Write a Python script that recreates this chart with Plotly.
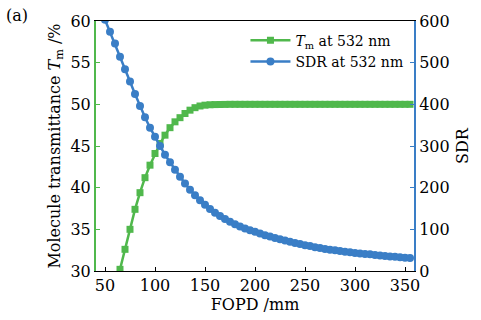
import plotly.graph_objects as go

# FOPD positions (mm)
fopd_sdr = list(range(50, 356, 5))
sdr = [603, 574, 546, 514, 484, 455, 425, 396, 369, 344,
       322, 300, 279, 261, 243, 226, 210, 195, 182, 170,
       159, 149, 140, 132, 125, 118, 112, 107, 102, 98,
       94, 90, 86, 83, 79, 76, 73, 70, 67, 65,
       62, 60, 57, 55, 53, 51, 50, 48, 46, 45,
       43.5, 42, 41, 40, 38.5, 37.5, 36, 35, 34, 33,
       32, 31]

fopd_tm = list(range(60, 356, 5))
tm = [27.8, 30.2, 32.6, 35.0, 37.4, 39.4, 41.2, 42.7, 44.1, 45.3,
      46.3, 47.2, 47.9, 48.4, 48.9, 49.3, 49.6, 49.8, 49.9, 49.95,
      49.97, 49.98, 49.99, 50.0, 50.0, 50.0, 50.0, 50.0, 50.0, 50.0,
      50.0, 50.0, 50.0, 50.0, 50.0, 50.0, 50.0, 50.0, 50.0, 50.0,
      50.0, 50.0, 50.0, 50.0, 50.0, 50.0, 50.0, 50.0, 50.0, 50.0,
      50.0, 50.0, 50.0, 50.0, 50.0, 50.0, 50.0, 50.0, 50.0, 50.0]

x_ticks = [50, 100, 150, 200, 250, 300, 350]
y_ticks = [30, 35, 40, 45, 50, 55, 60]
y2_ticks = [0, 100, 200, 300, 400, 500, 600]

GREEN = "rgb(80,184,76)"
BLUE = "rgb(58,126,198)"
FONT = "DejaVu Serif"

fig = go.Figure()
fig.add_trace(go.Scatter(
    x=fopd_tm, y=tm, mode="lines+markers", name="<i>T</i><sub>m</sub> at 532 nm",
    line=dict(color=GREEN, width=2.5),
    marker=dict(symbol="square", size=7, color=GREEN),
))
fig.add_trace(go.Scatter(
    x=fopd_sdr, y=sdr, mode="lines+markers", name="SDR at 532 nm", yaxis="y2",
    line=dict(color=BLUE, width=2.5),
    marker=dict(symbol="circle", size=8, color=BLUE),
))

fig.update_layout(
    width=481, height=320,
    margin=dict(l=96, r=67, t=18, b=48),
    paper_bgcolor="white", plot_bgcolor="white",
    font=dict(family=FONT, size=16, color="black"),
    showlegend=True,
    legend=dict(x=0.47, y=0.985, xanchor="left", yanchor="top",
                bgcolor="rgba(0,0,0,0)", font=dict(size=14, family=FONT),
                itemwidth=40, tracegroupgap=0),
    xaxis=dict(range=[41, 359], tickvals=x_ticks, ticks="inside", ticklen=4,
               tickcolor="black", showline=True, linecolor="black", linewidth=1,
               mirror=True, showgrid=False, zeroline=False,
               tickfont=dict(family=FONT, size=16),
               title=dict(text="FOPD /mm", standoff=2, font=dict(family=FONT, size=16))),
    yaxis=dict(range=[30, 60], tickvals=y_ticks, ticks="inside", ticklen=4,
               tickcolor=GREEN, showline=True, linecolor=GREEN, linewidth=2,
               showgrid=False, zeroline=False,
               tickfont=dict(family=FONT, size=16),
               title=dict(text="Molecule transmittance <i>T</i><sub>m</sub> /%",
                          standoff=6, font=dict(family=FONT, size=16))),
    yaxis2=dict(range=[0, 600], tickvals=y2_ticks, ticks="inside", ticklen=4,
                tickcolor=BLUE, showline=True, linecolor=BLUE, linewidth=2,
                overlaying="y", side="right", showgrid=False, zeroline=False,
                tickfont=dict(family=FONT, size=16),
                title=dict(text="SDR", standoff=8, font=dict(family=FONT, size=16))),
    annotations=[dict(text="(a)", xref="paper", yref="paper", x=-0.29, y=1.02,
                      xanchor="left", yanchor="middle", showarrow=False,
                      font=dict(size=16, family=FONT))],
)

fig.write_html("out.html")
